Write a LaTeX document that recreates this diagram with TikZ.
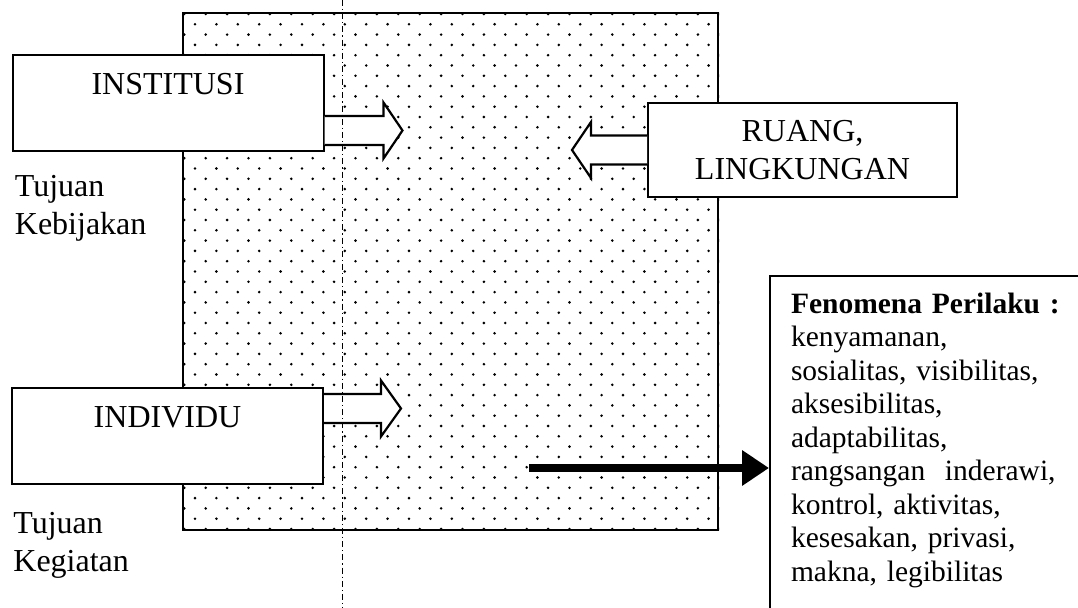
\documentclass[tikz,border=0pt]{standalone}
\usepackage{fontspec}
\setmainfont{Liberation Serif}
\usetikzlibrary{positioning,arrows.meta}

\begin{document}
\begin{tikzpicture}[x=0.5pt,y=-0.5pt]
      \tikzstyle{box}=[rectangle,draw,line width=1pt,fill=white,align=center,inner sep=0pt,font=\fontsize{16}{19}\selectfont]
      \tikzstyle{lbl}=[align=left,inner sep=0pt,font=\fontsize{16}{19}\selectfont]
      \tikzstyle{fenbox}=[rectangle,draw,line width=1pt,fill=white,align=left,text width=200pt,inner xsep=10.5pt,inner ysep=8.5pt,text depth=150pt,font=\fontsize{14.75}{16.75}\selectfont]
      \tikzstyle{hollow}=[draw,line width=1.1pt,fill=white,line join=miter]
      \tikzstyle{guide}=[line width=0.5pt,dash pattern=on 3pt off 1.5pt on 0.6pt off 1.5pt]
      \useasboundingbox (0,0) rectangle (1078,608);
      \node[draw,line width=1pt,inner sep=0pt,minimum width=267.5pt,minimum height=258.5pt] (area) at (450.5,271.5) {};
      \begin{scope}
        \clip (area.north west) rectangle (area.south east);
        \foreach \k in {0,...,50} {
          \pgfmathsetmacro{\yy}{14+10.3*\k}
          \pgfmathsetmacro{\xx}{isodd(\k) ? 195 : 184.3}
          \foreach \i in {0,...,25} {\fill (\xx+21.4*\i,\yy) circle (0.72pt);}
        }
      \end{scope}
      \node[box,minimum width=155.5pt,minimum height=48pt] (inst) at (168,103) {INSTITUSI\\\mbox{}};
      \node[box,minimum width=155.5pt,minimum height=48pt] (indiv) at (167.5,436) {INDIVIDU\\\mbox{}};
      \node[box,minimum width=154.5pt,minimum height=47pt] (ruang) at (802.5,150) {RUANG,\\LINGKUNGAN};
      \node[lbl,below right=11.5pt and 1.5pt of inst.south west] (kebij) {Tujuan\\Kebijakan};
      \node[lbl,below right=13.5pt and 1pt of indiv.south west] (kegiat) {Tujuan\\Kegiatan};
      \node[fenbox,anchor=north west] (fen) at (769,275) {\textbf{Fenomena Perilaku :}\\kenyamanan,\\sosialitas, visibilitas,\\aksesibilitas,\\adaptabilitas,\\rangsangan\ \ inderawi,\\kontrol, aktivitas,\\kesesakan, privasi,\\makna, legibilitas};
      \draw[hollow] (inst.north east) ++(0,62) -- ++(59,0) -- ++(0,-13.5) -- ++(19,28) -- ++(-19,28) -- ++(0,-13.5) -- ++(-59,0);
      \draw[hollow] (indiv.north east) ++(0,7) -- ++(57,0) -- ++(0,-13.5) -- ++(20,28) -- ++(-20,28) -- ++(0,-13.5) -- ++(-57,0);
      \draw[hollow] (ruang.west) ++(0,-14.5) -- ++(-56,0) -- ++(0,-13.5) -- ++(-19,28) -- ++(19,28) -- ++(0,-13.5) -- ++(56,0);
      \coordinate (gtop) at (342,0);
      \coordinate (gbot) at (342,608);
      \draw[guide] (gtop) -- (gbot);
      \coordinate (src) at (529,468);
      \draw[line width=4pt,-{Triangle[length=13.5pt,width=17pt]}] (src) -- (src -| fen.west);
\end{tikzpicture}
\end{document}
